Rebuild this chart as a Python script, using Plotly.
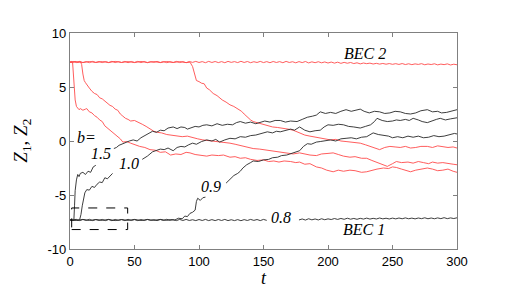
import plotly.graph_objects as go

# ---------------- data ----------------
# time grid of the two b=0.8 (BEC) traces
T_FLAT = [i * 2.5 for i in range(121)]

Z2_B08 = [7.30, 7.36, 7.26, 7.37, 7.27, 7.35, 7.25, 7.37, 7.28, 7.36, 7.26, 7.36, 7.27, 7.38, 7.26, 7.35, 7.27, 7.37, 7.25, 7.36, 7.28,
          7.37, 7.26, 7.36, 7.25, 7.35, 7.28, 7.37, 7.27, 7.36, 7.25, 7.34, 7.27, 7.37, 7.26, 7.35, 7.25, 7.36, 7.28, 7.37, 7.27,
          7.35, 7.25, 7.37, 7.27, 7.36, 7.26, 7.35, 7.25, 7.37, 7.28, 7.35, 7.26, 7.38, 7.27, 7.36, 7.25, 7.34, 7.27, 7.37, 7.26,
          7.35, 7.25, 7.36, 7.27, 7.35, 7.25, 7.37, 7.27, 7.34, 7.24, 7.35, 7.26, 7.36, 7.23, 7.33, 7.25, 7.34, 7.24, 7.32, 7.22,
          7.31, 7.21, 7.30, 7.19, 7.28, 7.20, 7.27, 7.17, 7.24, 7.14, 7.22, 7.16, 7.21, 7.13, 7.19, 7.12, 7.18, 7.11, 7.17, 7.10,
          7.16, 7.09, 7.17, 7.08, 7.15, 7.07, 7.14, 7.09, 7.16, 7.06, 7.13, 7.08, 7.15, 7.05, 7.12, 7.07, 7.14, 7.04, 7.11, 7.06]

Z1_B08 = [-7.30, -7.36, -7.26, -7.37, -7.27, -7.35, -7.25, -7.37, -7.28, -7.35, -7.26, -7.37, -7.27, -7.38, -7.26, -7.35, -7.28, -7.37, -7.25, -7.36, -7.28,
          -7.37, -7.27, -7.36, -7.26, -7.35, -7.28, -7.37, -7.27, -7.36, -7.25, -7.35, -7.28, -7.37, -7.26, -7.36, -7.26, -7.36, -7.29, -7.37, -7.27,
          -7.36, -7.26, -7.37, -7.28, -7.37, -7.27, -7.36, -7.26, -7.37, -7.29, -7.37, -7.28, -7.38, -7.28, -7.36, -7.26, -7.35, -7.27, -7.37, -7.26,
          -7.35, None, None, None, None, None, None, None, None, None, -7.31, -7.22, -7.32, -7.20, -7.30, -7.22, -7.31, -7.20, -7.29, -7.21,
          -7.27, -7.18, -7.26, -7.17, -7.25, -7.15, -7.24, -7.17, -7.25, -7.16, -7.23, -7.14, -7.23, -7.16, -7.22, -7.13, -7.21, -7.15, -7.22, -7.14,
          -7.21, -7.13, -7.20, -7.12, -7.20, -7.14, -7.21, -7.13, -7.19, -7.11, -7.20, -7.13, -7.20, -7.12, -7.19, -7.10, -7.19, -7.12, -7.18, -7.11]

# (t, Z) samples of the other runs; None marks a gap left for a label
Z1_B15 = [(0, -7.30), (1, -7.36), (2, -7.26), (3, -7.33), (3.5, -6.0), (4, -4.6), (5, -3.6), (6, -3.1), (7, -3.3), (8, -3.0),
          (10, -2.9), (12, -3.1), (14, -2.8), (16, -2.9), (18, -2.4), (20, -2.25), (27, None), (34, -0.7), (36, -0.6),
          (38, -0.4), (40, -0.3), (43, -0.1), (46, 0.0), (49, 0.1), (52, 0.0), (55, 0.3), (58, 0.5), (61, 0.7), (64, 0.9),
          (67, 0.8), (70, 1.0), (73, 0.95), (76, 1.2), (80, 1.3), (83, 1.15), (86, 1.3), (89, 1.25), (91, 1.1), (94, 1.25),
          (97, 1.35), (100, 1.3), (103, 1.45), (106, 1.5), (110, 1.4), (114, 1.6), (118, 1.45), (122, 1.55), (126, 1.5),
          (129, 1.7), (132, 1.8), (136, 1.65), (140, 1.75), (144, 1.6), (147, 1.7), (151, 1.85), (155, 1.75), (159, 1.9),
          (163, 1.9), (167, 1.75), (171, 1.85), (176, 1.8), (180, 2.0), (184, 2.2), (188, 2.3), (191, 2.4), (194, 2.7),
          (198, 2.55), (202, 2.65), (206, 2.55), (210, 2.75), (214, 2.9), (218, 2.75), (222, 2.9), (225, 2.95), (228, 2.75),
          (232, 2.6), (236, 2.75), (240, 2.7), (244, 2.55), (248, 2.6), (252, 2.75), (256, 2.7), (260, 2.55), (264, 2.5),
          (268, 2.6), (272, 2.8), (277, 2.9), (281, 2.7), (285, 2.75), (288, 2.6), (292, 2.65), (296, 2.75), (300, 2.9)]

Z1_B10 = [(0, -7.30), (2, -7.36), (4, -7.26), (6, -7.35), (7.5, -7.27), (8.5, -6.8), (9.5, -6.0), (10.5, -5.3), (11.5, -4.8),
          (13, -4.5), (15, -4.55), (17, -4.2), (19, -4.3), (21, -4.0), (23, -3.8), (25, -3.85), (27, -3.4), (29, -3.5),
          (31, -3.2), (33, -3.0), (45, None), (56, -1.7), (60, -1.4), (64, -1.0), (67, -0.9), (70, -0.75), (73, -0.8),
          (76, -0.65), (80, -0.9), (83, -0.6), (86, -0.5), (89, -0.55), (92, -0.35), (95, -0.2), (98, -0.3), (102, -0.05),
          (106, 0.1), (110, 0.0), (113, 0.15), (116, -0.1), (120, 0.1), (124, 0.25), (128, 0.2), (132, 0.4), (136, 0.35),
          (140, 0.5), (144, 0.55), (148, 0.7), (153, 0.85), (157, 0.75), (160, 0.9), (163, 0.85), (167, 0.95), (171, 1.1),
          (174, 1.0), (178, 1.3), (182, 1.0), (186, 0.85), (190, 0.95), (194, 1.0), (197, 1.3), (200, 1.5), (204, 1.45),
          (208, 1.55), (212, 1.5), (216, 1.35), (220, 1.3), (225, 1.2), (229, 1.35), (233, 1.5), (236, 1.8), (238, 2.1),
          (242, 1.9), (246, 1.8), (250, 1.85), (253, 1.95), (256, 1.9), (260, 2.0), (263, 1.9), (266, 2.1), (270, 1.95),
          (273, 1.8), (277, 1.7), (281, 1.9), (284, 2.0), (287, 2.1), (291, 1.95), (295, 2.05), (300, 2.15)]

Z1_B09 = [(0, -7.30), (5, -7.36), (10, -7.26), (15, -7.36), (20, -7.27), (25, -7.35), (30, -7.26), (35, -7.37), (40, -7.27),
          (45, -7.35), (50, -7.26), (55, -7.36), (60, -7.27), (65, -7.35), (70, -7.26), (75, -7.35), (78, -7.27), (81, -7.33),
          (84, -7.15), (87, -7.20), (89, -6.95), (91, -7.0), (93, -6.7), (95, -6.6), (97, -6.4), (98, -5.6), (99, -5.3),
          (101, -5.5), (103, -5.25), (105, -5.2), (113, None), (121, -3.9), (124, -3.5), (127, -3.2), (130, -3.0),
          (132, -2.8), (134, -2.5), (137, -2.2), (140, -2.0), (142, -1.85), (146, -1.9), (150, -1.75), (154, -1.7),
          (157, -1.55), (161, -1.5), (164, -1.35), (168, -1.3), (171, -1.2), (175, -1.05), (178, -0.9), (181, -0.5),
          (184, -0.25), (187, -0.3), (191, -0.1), (194, -0.05), (198, 0.05), (202, 0.1), (206, 0.0), (210, 0.2),
          (214, 0.25), (218, 0.3), (222, 0.2), (226, 0.35), (230, 0.4), (233, 0.6), (235, 0.75), (239, 0.6), (243, 0.55),
          (247, 0.45), (250, 0.3), (254, 0.4), (258, 0.3), (262, 0.45), (266, 0.35), (270, 0.45), (274, 0.3), (278, 0.35),
          (282, 0.5), (286, 0.4), (290, 0.45), (294, 0.6), (298, 0.7), (300, 0.65)]

Z2_B15 = [(0, 7.30), (1, 7.36), (2, 7.27), (2.5, 6.5), (3, 5.5), (3.5, 4.5), (4, 3.8), (5, 3.2), (6, 3.05), (7, 2.9), (8, 3.0),
          (10, 2.85), (12, 2.95), (13, 3.0), (15, 2.7), (17, 2.6), (19, 2.35), (21, 2.2), (23, 1.95), (25, 1.8), (27, 1.4),
          (29, 1.2), (31, 1.0), (33, 0.8), (35, 0.55), (37, 0.4), (39, 0.2), (41, -0.1), (44, -0.05), (47, -0.2), (50, -0.35),
          (54, -0.5), (58, -0.6), (62, -0.8), (66, -0.85), (70, -1.05), (74, -1.0), (78, -1.3), (82, -1.2), (86, -1.25),
          (90, -1.05), (93, -1.1), (97, -1.25), (101, -1.3), (106, -1.4), (110, -1.3), (115, -1.35), (119, -1.3), (124, -1.5),
          (128, -1.45), (132, -1.6), (136, -1.55), (140, -1.7), (145, -1.8), (150, -1.75), (154, -1.9), (158, -1.85),
          (162, -1.95), (166, -1.85), (171, -1.9), (175, -2.0), (178, -1.95), (182, -2.15), (186, -2.1), (191, -2.4),
          (195, -2.5), (199, -2.7), (204, -2.85), (208, -2.7), (212, -2.8), (217, -2.7), (221, -2.75), (226, -2.9),
          (230, -2.85), (234, -2.7), (238, -2.6), (243, -2.5), (247, -2.55), (250, -2.4), (253, -2.45), (257, -2.6),
          (261, -2.75), (264, -2.85), (268, -2.7), (272, -2.6), (277, -2.5), (281, -2.6), (285, -2.75), (289, -2.7),
          (293, -2.6), (297, -2.8), (300, -2.9)]

Z2_B10 = [(0, 7.30), (2, 7.26), (4, 7.36), (6, 7.27), (8, 7.35), (9, 7.1), (10, 6.2), (11, 5.6), (12, 5.4), (13, 5.2),
          (15, 4.9), (17, 4.6), (19, 4.4), (21, 4.3), (23, 4.0), (25, 3.9), (27, 3.7), (29, 3.55), (31, 3.3), (33, 3.2),
          (35, 2.95), (37, 2.85), (39, 2.5), (41, 2.3), (43, 2.1), (45, 2.0), (47, 1.85), (50, 1.9), (53, 1.75), (56, 1.55),
          (59, 1.35), (62, 1.1), (65, 0.9), (68, 0.8), (71, 0.75), (75, 0.6), (79, 0.55), (83, 0.5), (87, 0.4), (91, 0.45),
          (95, 0.3), (99, 0.2), (103, 0.1), (107, 0.05), (111, -0.05), (116, -0.1), (120, -0.15), (124, -0.2), (128, -0.3),
          (132, -0.4), (137, -0.55), (142, -0.7), (147, -0.75), (153, -0.85), (158, -0.95), (163, -1.05), (168, -1.15),
          (173, -1.2), (178, -1.1), (182, -1.2), (186, -1.3), (191, -1.35), (195, -1.2), (200, -1.15), (204, -1.1),
          (208, -1.25), (212, -1.4), (217, -1.5), (221, -1.45), (226, -1.6), (230, -1.6), (234, -1.8), (238, -2.0),
          (242, -2.2), (246, -2.35), (250, -2.1), (253, -1.9), (257, -2.0), (262, -1.95), (266, -2.05), (270, -1.9),
          (274, -2.0), (278, -2.1), (281, -1.95), (285, -2.05), (289, -2.0), (293, -2.1), (297, -2.15), (300, -2.2)]

Z2_B09 = [(0, 7.30), (5, 7.35), (10, 7.26), (15, 7.36), (20, 7.27), (25, 7.35), (30, 7.26), (35, 7.37), (40, 7.27),
          (45, 7.35), (50, 7.26), (55, 7.36), (60, 7.27), (65, 7.35), (70, 7.26), (75, 7.36), (80, 7.27), (85, 7.35),
          (90, 7.26), (93, 7.30), (95, 6.9), (97, 6.1), (98, 5.6), (100, 5.5), (102, 5.35), (104, 5.3), (106, 4.9),
          (108, 4.75), (111, 4.4), (114, 4.2), (116, 4.0), (118, 3.8), (121, 3.6), (124, 3.35), (127, 3.2), (130, 3.0),
          (133, 2.75), (135, 2.5), (137, 2.25), (140, 1.95), (142, 1.8), (145, 1.7), (148, 1.55), (151, 1.45), (154, 1.4),
          (157, 1.3), (161, 1.25), (165, 1.2), (169, 1.1), (173, 1.0), (176, 0.85), (179, 0.7), (182, 0.55), (186, 0.45),
          (190, 0.35), (194, 0.3), (198, 0.2), (202, 0.1), (206, 0.15), (210, 0.0), (214, -0.05), (217, -0.1), (221, -0.15),
          (225, -0.2), (229, -0.35), (233, -0.5), (237, -0.65), (240, -0.8), (244, -0.6), (248, -0.5), (252, -0.55),
          (256, -0.6), (260, -0.5), (264, -0.65), (268, -0.6), (272, -0.5), (277, -0.5), (281, -0.6), (285, -0.45),
          (289, -0.55), (293, -0.6), (297, -0.55), (300, -0.65)]

# labels: (text, t, Z)
LABELS = [("BEC 2", 229, 8.1), ("BEC 1", 228, -8.2), ("b=", 12.4, 0.3),
          ("1.5", 24, -1.2), ("1.0", 46, -2.1), ("0.9", 109, -4.2), ("0.8", 163.5, -7.1)]

# zoom box (t0, t1, Z0, Z1)
BOX = (1.3, 44.7, -8.2, -6.2)

X_TICKS = [0, 50, 100, 150, 200, 250, 300]
Y_TICKS = [-10, -5, 0, 5, 10]

# ---------------- figure ----------------
RED = "rgb(255,75,75)"
BLACK = "rgb(40,40,40)"
SERIF = "Liberation Serif, Times New Roman, serif"
SANS = "Liberation Sans, Arial, Helvetica, sans-serif"

fig = go.Figure()


def add(t, z, color):
    fig.add_trace(go.Scatter(x=t, y=z, mode="lines", line=dict(color=color, width=0.9),
                             connectgaps=False, hoverinfo="skip", showlegend=False))


def add_pairs(pairs, color):
    add([p[0] for p in pairs], [p[1] for p in pairs], color)


add_pairs(Z2_B15, RED)
add_pairs(Z2_B10, RED)
add_pairs(Z2_B09, RED)
add(T_FLAT, Z2_B08, RED)
add_pairs(Z1_B15, BLACK)
add_pairs(Z1_B10, BLACK)
add_pairs(Z1_B09, BLACK)
add(T_FLAT, Z1_B08, BLACK)

for txt, tx, ty in LABELS:
    fig.add_annotation(x=tx, y=ty, text=f"<i>{txt}</i>", showarrow=False,
                       font=dict(family=SERIF, size=16, color="black"),
                       xanchor="center", yanchor="middle")

# axis titles
fig.add_annotation(x=0.5, y=-0.135, xref="paper", yref="paper", text="<i>t</i>", showarrow=False,
                   font=dict(family=SERIF, size=18, color="black"), xanchor="center", yanchor="middle")
fig.add_annotation(x=-0.125, y=0.5, xref="paper", yref="paper", textangle=-90,
                   text="<i>Z</i><sub>1</sub>, <i>Z</i><sub>2</sub>", showarrow=False,
                   font=dict(family=SERIF, size=19, color="black"), xanchor="center", yanchor="middle")

fig.add_shape(type="rect", x0=BOX[0], x1=BOX[1], y0=BOX[2], y1=BOX[3],
              line=dict(color="black", width=1, dash="dash"))

axis_common = dict(showline=True, linecolor="rgb(128,128,128)", linewidth=1.3, mirror="ticks",
                   ticks="inside", ticklen=4, tickcolor="rgb(128,128,128)", tickwidth=1,
                   showgrid=False, zeroline=False,
                   tickfont=dict(family=SANS, size=13, color="black"))

fig.update_xaxes(range=[0, 300], tickvals=X_TICKS, ticktext=[str(v) for v in X_TICKS], **axis_common)
fig.update_yaxes(range=[-10, 10], tickvals=Y_TICKS, ticktext=[str(v) for v in Y_TICKS], **axis_common)

# the page body adds an 8 px offset, so margins are shifted to keep the plot frame in place
fig.update_layout(width=519, height=305, margin=dict(l=62, r=70, t=25, b=64),
                  paper_bgcolor="white", plot_bgcolor="white")

fig.write_html("out.html")
